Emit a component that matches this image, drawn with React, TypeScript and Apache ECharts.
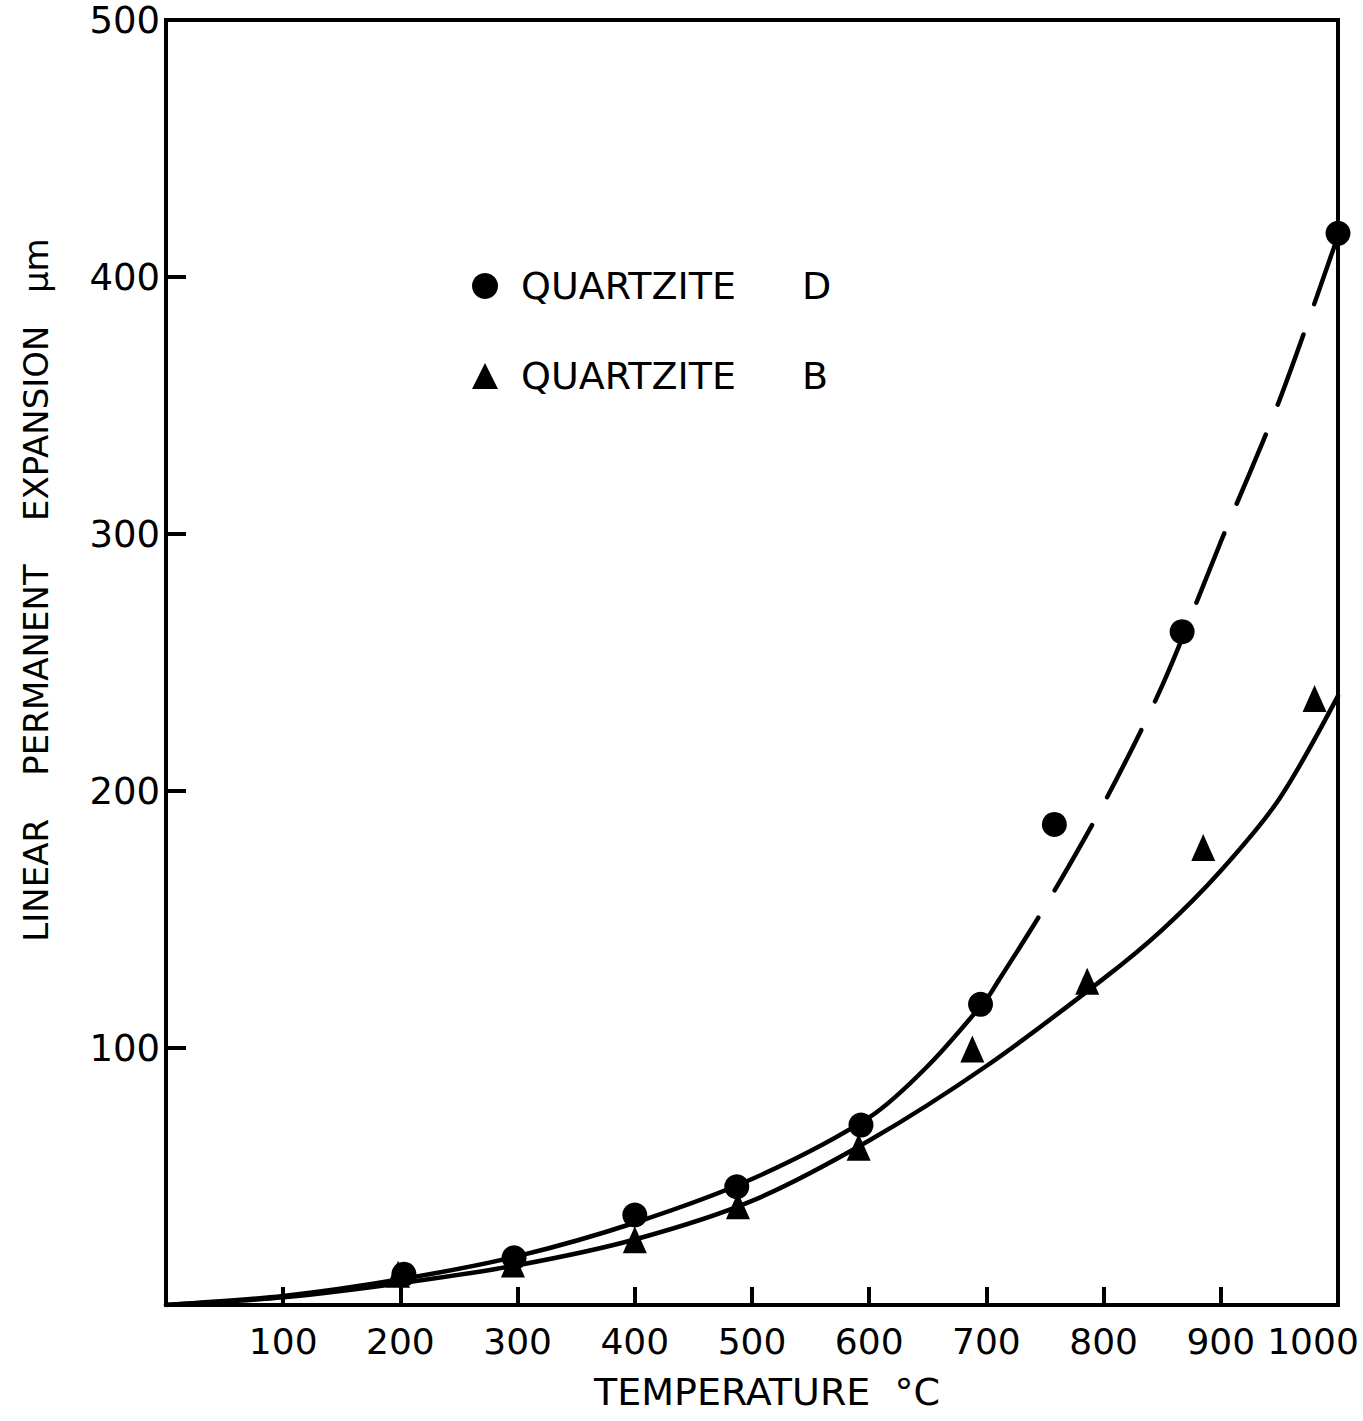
import React, { useEffect, useRef } from "react";
import * as echarts from "echarts";

const FONT = "DejaVu Sans";

// Axis ticks
const xMin = 0;
const xMax = 1000;
const xInterval = 100;
const yMin = 0;
const yMax = 500;
const yInterval = 100;

// Measured points (temperature °C, expansion µm)
const quartziteD: [number, number][] = [
  [203, 12], [297, 18.4], [400, 35], [487, 46], [593, 70],
  [695, 117], [758, 187], [867, 262], [1000, 417],
];
const quartziteB: [number, number][] = [
  [198, 12], [296, 16], [400, 25.4], [488, 38.6], [591, 61.4],
  [688, 99.6], [786, 126], [885, 178], [980, 236],
];

// Fitted curves
const curveDSolid: [number, number][] = [
  [0, 0], [100, 3.5], [200, 10], [300, 19], [400, 32], [500, 49],
  [600, 73], [650, 93], [700, 119], [710, 126],
];
const curveDDashed: [number, number][] = [
  [710, 126], [750, 155], [800, 195], [850, 241], [900, 297], [950, 352], [1000, 416],
];
const curveB: [number, number][] = [
  [0, 0], [100, 3], [200, 8.5], [300, 15.5], [400, 25.5], [500, 40.5],
  [600, 64], [700, 93], [800, 127], [850, 146], [900, 169], [950, 197], [1000, 237],
];

const legendNames = ["QUARTZITE D", "QUARTZITE B"];
const xTitle = "TEMPERATURE  °C";
const yTitle = "LINEAR    PERMANENT    EXPANSION   μm";

export default function App() {
  const ref = useRef<HTMLDivElement>(null);
  useEffect(() => {
    if (!ref.current) return;
    const chart = echarts.init(ref.current, null, { renderer: "svg" });
    const lineBase = {
      type: "line" as const,
      showSymbol: false,
      symbol: "none",
      smooth: 0.3,
      lineStyle: { color: "#000", width: 4.5, cap: "round" as const },
      z: 2,
      silent: true,
    };
    chart.setOption({
      animation: false,
      backgroundColor: "#fff",
      grid: {
        left: 166,
        right: 25,
        top: 20,
        bottom: 116,
        show: true,
        borderColor: "#000",
        borderWidth: 4,
        containLabel: false,
        outerBoundsMode: "none",
      },
      legend: {
        data: legendNames,
        orient: "vertical",
        left: 467,
        top: 262,
        itemWidth: 26,
        itemHeight: 26,
        itemGap: 52,
        selectedMode: false,
        formatter: (name: string) => {
          const [a, b] = name.split(" ");
          return `{a|${a}}{b|${b}}`;
        },
        textStyle: {
          color: "#000",
          fontFamily: FONT,
          fontSize: 38,
          rich: {
            a: { fontFamily: FONT, fontSize: 38, color: "#000", padding: [0, 0, 0, 18] },
            b: { fontFamily: FONT, fontSize: 38, color: "#000", padding: [0, 0, 0, 66] },
          },
        },
      },
      xAxis: {
        type: "value",
        min: xMin,
        max: xMax,
        interval: xInterval,
        name: xTitle,
        nameLocation: "middle",
        nameGap: 68,
        nameTextStyle: {
          color: "#000",
          fontFamily: FONT,
          fontSize: 38,
          padding: [0, 0, 0, 30],
        },
        axisLine: { show: true, lineStyle: { color: "#000", width: 4 } },
        axisTick: { show: true, inside: true, length: 18, lineStyle: { color: "#000", width: 4 } },
        axisLabel: {
          color: "#000",
          fontFamily: FONT,
          fontSize: 36,
          margin: 18,
          showMaxLabel: true,
          showMinLabel: false,
          hideOverlap: false,
          formatter: (v: number) =>
            v === 0 ? "" : v === xMax ? `{last|${v}}` : String(v),
          rich: {
            last: { fontFamily: FONT, fontSize: 36, color: "#000", padding: [0, 50, 0, 0] },
          },
        },
        splitLine: { show: false },
      },
      yAxis: {
        type: "value",
        min: yMin,
        max: yMax,
        interval: yInterval,
        axisLine: { show: true, lineStyle: { color: "#000", width: 4 } },
        axisTick: { show: true, inside: true, length: 20, lineStyle: { color: "#000", width: 4 } },
        axisLabel: {
          color: "#000",
          fontFamily: FONT,
          fontSize: 37,
          margin: 6,
          formatter: (v: number) => (v === 0 ? "" : String(v)),
        },
        splitLine: { show: false },
      },
      graphic: [
        {
          type: "text",
          x: 36,
          y: 590,
          rotation: Math.PI / 2,
          style: {
            text: yTitle,
            fontFamily: FONT,
            fontSize: 34,
            fill: "#000",
            align: "center",
            verticalAlign: "middle",
          },
        },
      ],
      series: [
        { ...lineBase, name: "Curve D", data: curveDSolid },
        {
          ...lineBase,
          name: "Curve D (extrapolated)",
          data: curveDDashed,
          lineStyle: { color: "#000", width: 4.5, type: [75, 32], cap: "round" },
        },
        { ...lineBase, name: "Curve B", data: curveB },
        {
          type: "scatter",
          name: legendNames[0],
          data: quartziteD,
          symbol: "circle",
          symbolSize: 25,
          itemStyle: { color: "#000", opacity: 1 },
          z: 3,
        },
        {
          type: "scatter",
          name: legendNames[1],
          data: quartziteB,
          symbol: "triangle",
          symbolSize: [24, 27],
          itemStyle: { color: "#000", opacity: 1 },
          z: 3,
        },
      ],
    });
    return () => chart.dispose();
  }, []);
  return (
    <div
      ref={ref}
      style={{ position: "absolute", left: 0, top: 0, width: 1363, height: 1421, background: "#fff" }}
    />
  );
}
